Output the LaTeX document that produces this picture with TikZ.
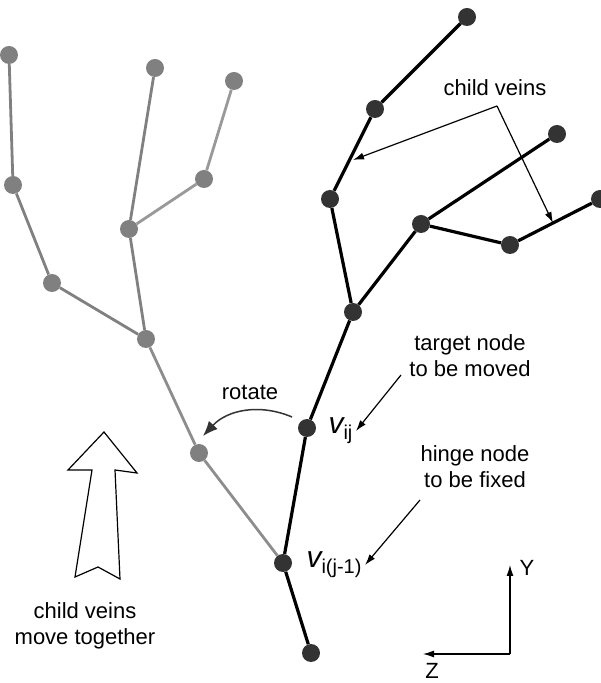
\documentclass[tikz,border=0pt]{standalone}
\usepackage{fontspec}
\setmainfont{Liberation Sans}
\usepackage{tikz}
\usetikzlibrary{arrows.meta}
\usetikzlibrary{positioning}
\definecolor{veindark}{HTML}{333333}
\definecolor{veingray}{HTML}{808080}
\definecolor{veinlight}{HTML}{999999}
\tikzset{tipped/.style = {-{Latex[length = 11, width = 7]}, line width = 1.2}}
\tikzset{bigtipped/.style = {-{Latex[length = 15, width = 12]}, line width = 1.5, veindark}}
\tikzset{vein/.style = {fill=veindark, circle, inner sep = 0, minimum size = 18}}
\tikzset{oldvein/.style = {fill=veingray, circle, inner sep = 0, minimum size = 18}}
\tikzset{note/.style = {align=center, font=\fontsize{22}{26}\selectfont}}

\begin{document}
\begin{tikzpicture}[x=1pt, y=1pt]
      \useasboundingbox (0, 0) rectangle (601, 683);
      % rotated copy
      \node [oldvein] (g1) at (9, 628) {};
      \node [oldvein] (g2) at (13, 498) {};
      \node [oldvein] (g3) at (52, 400) {};
      \node [oldvein] (g4) at (146, 344) {};
      \node [oldvein] (g5) at (129, 454) {};
      \node [oldvein] (g6) at (155, 615) {};
      \node [oldvein] (g7) at (204, 504) {};
      \node [oldvein] (g8) at (234, 602) {};
      \node [oldvein] (g9) at (199, 230) {};
      % original vein
      \node [vein] (hinge) at (283, 120) {};
      \node [vein] (root) at (311, 30) {};
      \node [vein] (vij) at (307, 255) {};
      \node [vein] (b3) at (353, 371) {};
      \node [vein] (b2) at (330, 484) {};
      \node [vein] (b1) at (375, 574) {};
      \node [vein] (btop) at (467, 666) {};
      \node [vein] (b4) at (421, 459) {};
      \node [vein] (b5) at (557, 549) {};
      \node [vein] (b6) at (510, 438) {};
      \node [vein] (b7) at (600, 484) {};
      \draw [veingray, line width = 2.8] (g1) -- (g2) -- (g3) -- (g4) -- (g5) -- (g6);
      \draw [veinlight, line width = 2.8] (g5) -- (g7) -- (g8);
      \draw [veingray!90, line width = 2.8] (g4) -- (g9) -- (hinge);
      \draw [line width = 3.2] (root) -- (hinge) -- (vij) -- (b3) -- (b2) -- (b1) -- (btop);
      \draw [line width = 3.2] (b3) -- (b4) -- (b5);
      \draw [line width = 3.2] (b4) -- (b6) -- (b7);
      % labels
      \node [note] (child) at (495, 595) {child veins};
      \coordinate (fork) at (497, 577);
      \coordinate (tipa) at (353, 523);
      \coordinate (tipb) at (553, 460);
      \draw [tipped] (fork) -- (tipa);
      \draw [tipped] (fork) -- (tipb);
      \node [note] (target) at (470, 327) {target node\\to be moved};
      \node [note, anchor = west] (vijl) at (325, 252)
            {{\fontsize{30}{30}\selectfont\itshape v}\raisebox{-6pt}{\fontsize{20}{20}\selectfont ij}};
      \draw [tipped] (401, 308) -- (vijl.east);
      \node [note] (hingel) at (475, 216) {hinge node\\to be fixed};
      \node [note, anchor = west] (vijm) at (303, 118)
            {{\fontsize{30}{30}\selectfont\itshape v}\raisebox{-6pt}{\fontsize{20}{20}\selectfont i(j-1)}};
      \draw [tipped] (420, 183) -- (vijm.east);
      \node [note] (rot) at (250, 291) {rotate};
      \draw [bigtipped]
            ([shift = {(-15, 11)}]vij.center) to [bend right = 35] ([shift = {(4, 17)}]g9.center);
      % big hollow arrow
      \draw [line width = 1.2, line join = miter] (104, 251) -- (137, 210) -- (115, 213) -- (120, 104)
            -- (98, 116) -- (75, 106) -- (92, 213) -- (68, 213) -- cycle;
      \node [note] (together) at (85, 57) {child veins\\move together};
      % axes
      \coordinate (origin) at (510, 29);
      \node [note] (ylab) at (527, 115) {Y};
      \node [note] (zlab) at (432, 12) {Z};
      \draw [tipped] (origin) -- (510, 118);
      \draw [tipped] (origin) -- (423, 29);
\end{tikzpicture}
\end{document}
